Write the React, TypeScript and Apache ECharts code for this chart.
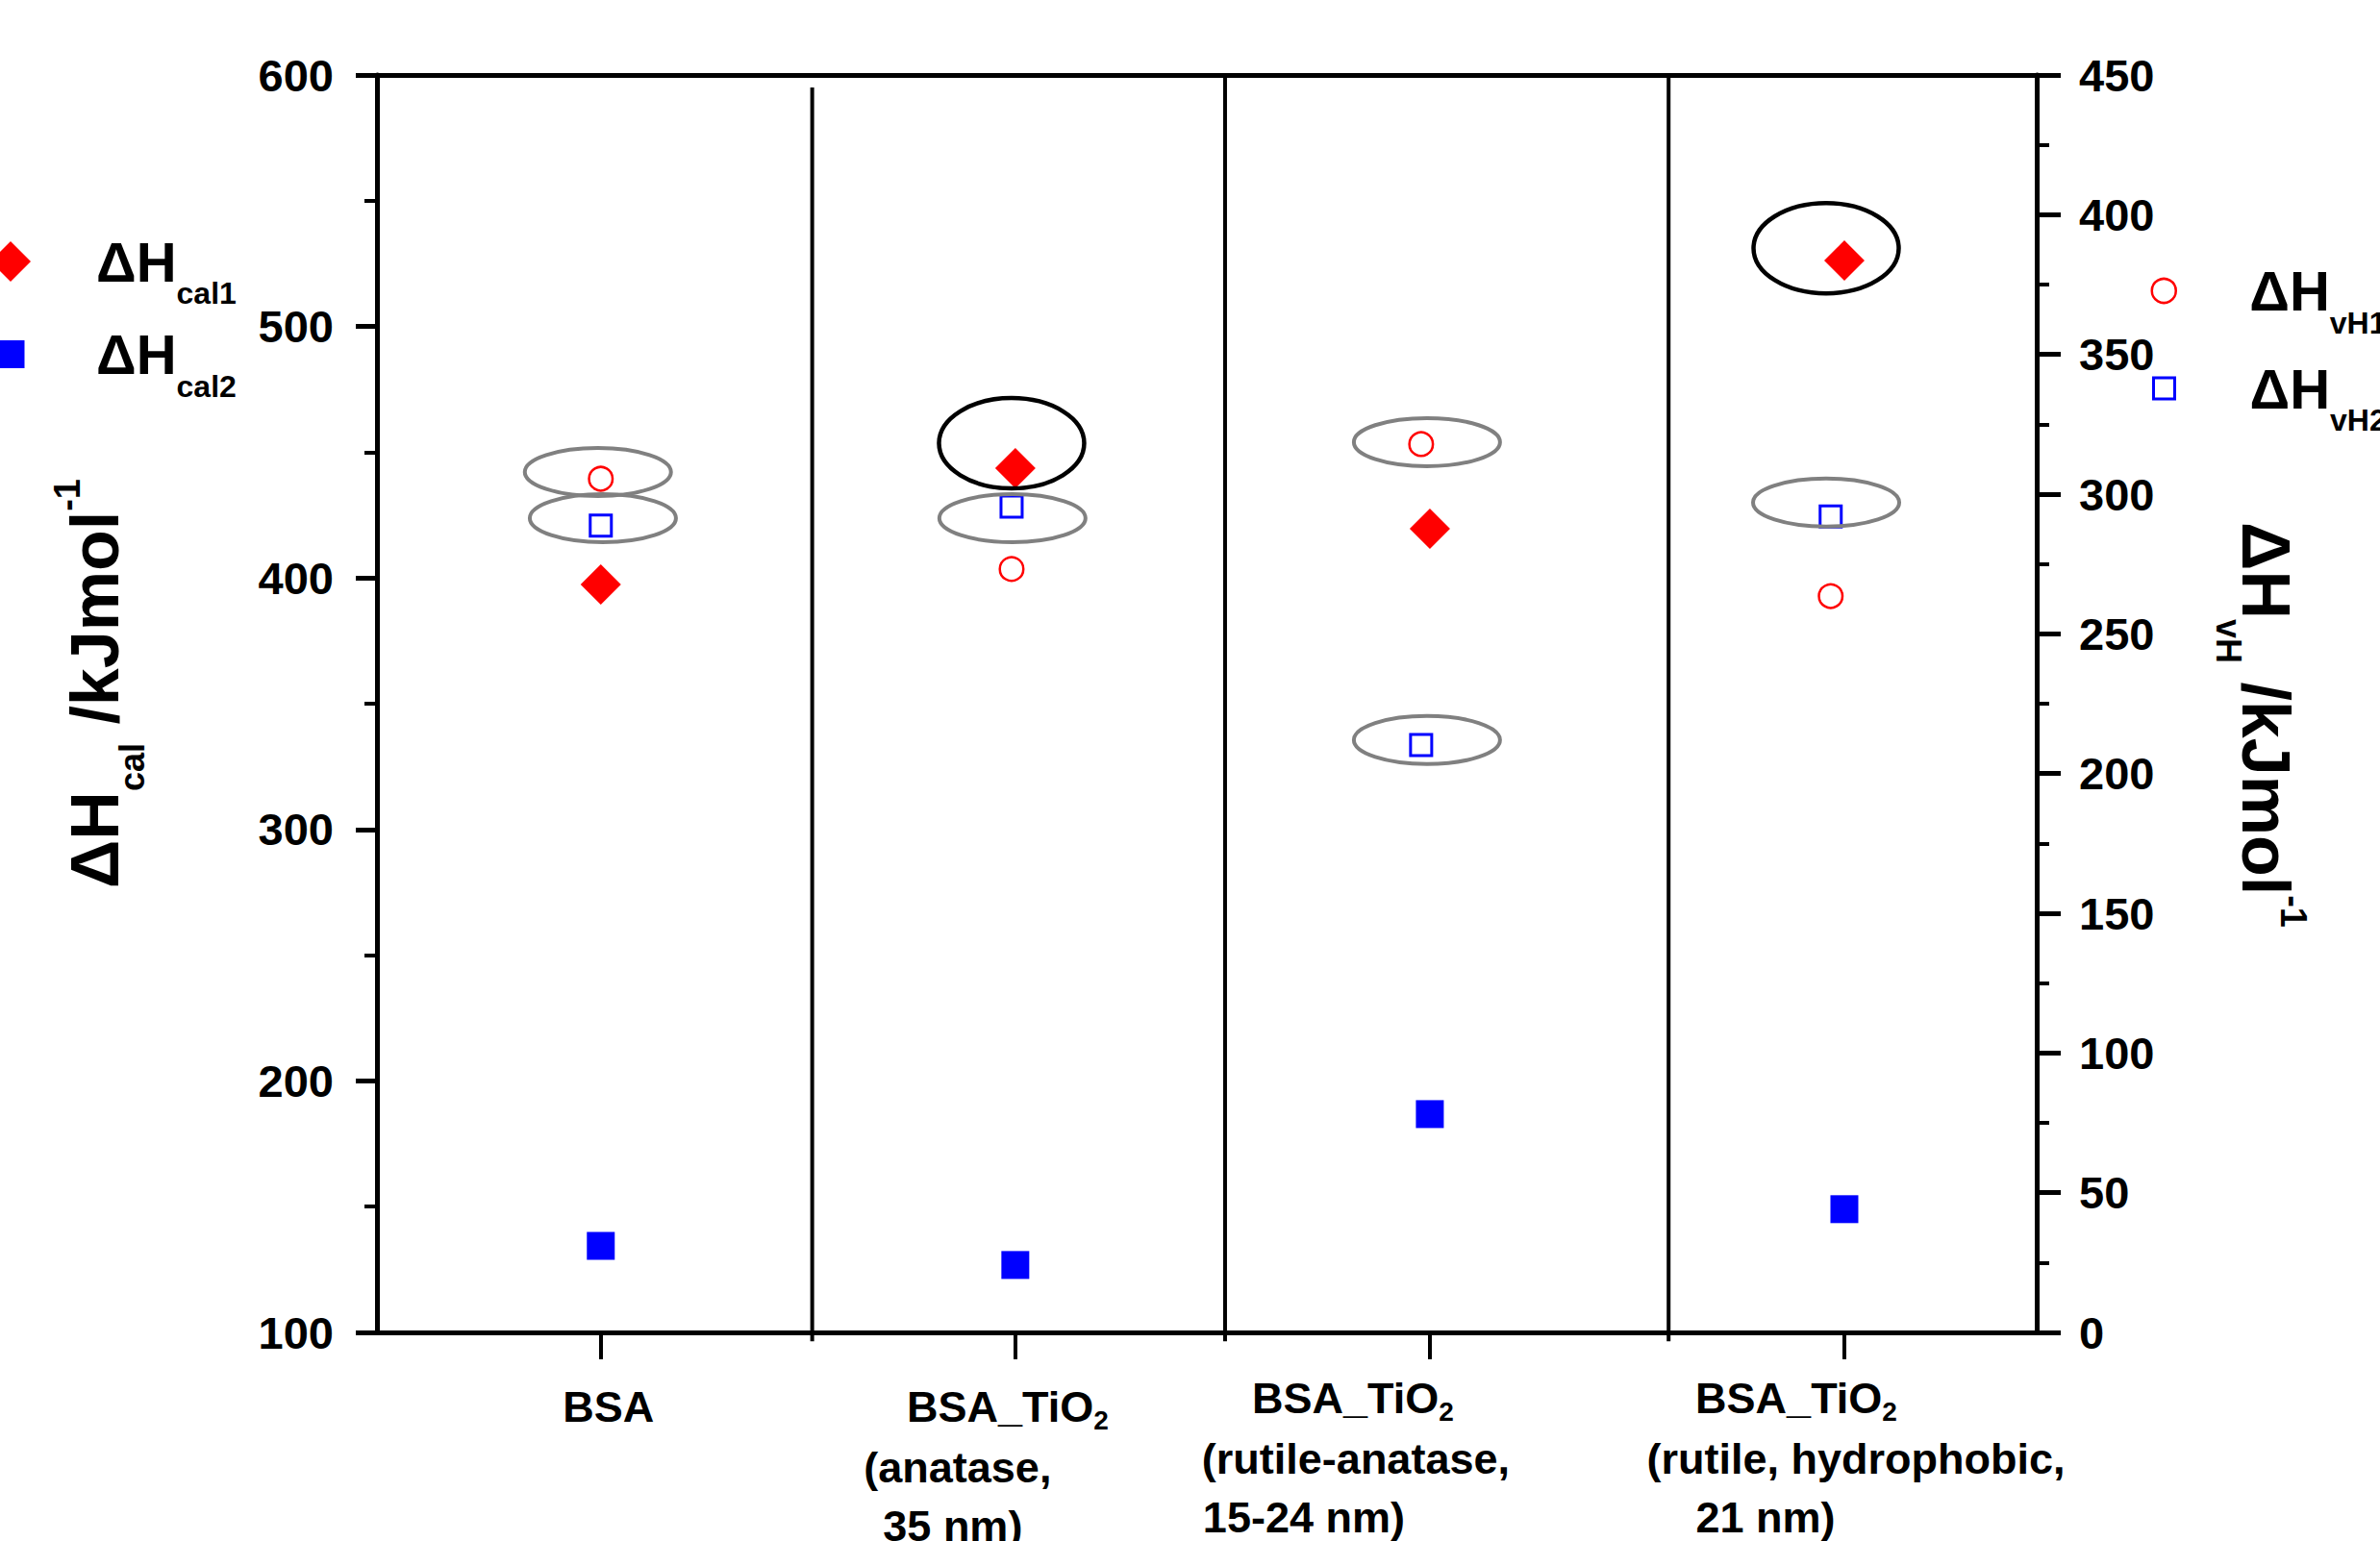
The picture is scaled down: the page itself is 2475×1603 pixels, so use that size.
import React, { useEffect, useRef } from 'react';
import * as echarts from 'echarts';

// ---------- data ----------
const categoryPositions = [1, 2, 3, 4];
const categoryMain = ['BSA', 'BSA_TiO', 'BSA_TiO', 'BSA_TiO'];
const categorySub = ['', '2', '2', '2'];
const categoryLine2 = ['', '(anatase,', '(rutile-anatase,', '(rutile, hydrophobic,'];
const categoryLine3 = ['', '35 nm)', '15-24 nm)', '21 nm)'];

const seriesNames = ['ΔHcal1', 'ΔHcal2', 'ΔHvH1', 'ΔHvH2'];
const cal1 = [[1, 397.4], [2, 443.7], [3, 419.6], [4, 526.2]];
const cal2 = [[1, 134.4], [2, 126.8], [3, 186.8], [4, 149.0]];
const vH1 = [[1, 305.5], [1.991, 273.2], [2.979, 317.9], [3.967, 263.5]];
const vH2 = [[1, 288.7], [1.991, 295.5], [2.979, 210.2], [3.967, 292.0]];

// separators: x, top (left axis), bottom (left axis)
const separators = [[1.51, 595, 96.5], [2.506, 600, 96.5], [3.576, 599, 96.5]];
// highlight ellipses: x, y (right axis), kind (0 gray, 1 black)
const ellipses = [
  [0.993, 307.9, 0], [1.005, 291.4, 0],
  [1.991, 318.2, 1], [1.993, 291.4, 0],
  [2.993, 318.6, 0], [2.993, 212.0, 0],
  [3.956, 388.0, 1], [3.956, 297.0, 0],
];

const leftTicks = { min: 100, max: 600, interval: 100 };
const rightTicks = { min: 0, max: 450, interval: 50 };

// ---------- layout (styles) ----------
const FONT = "'Liberation Sans', Arial, Helvetica, sans-serif";
const X_MIN = 0.46;
const X_MAX = 4.464;
const PX_PER_UNIT = 1726 / (X_MAX - X_MIN);
// horizontal offset (px) of each label block from its tick, and of each line inside the block
const labelAnchorShift = [8, -8, -77, 12];
const lineShifts = [[0, 0, 0], [0, -52, -57], [-3, 0, -54], [-62, 0, -94]];
const labelDrop = [9, 9, 0, 0];
const lowerLinesDrop = 2;
const labelAnchors = categoryPositions.map((p, i) => p + labelAnchorShift[i] / PX_PER_UNIT);

function padH(s: number) {
  return { r: s < 0 ? -2 * s : 0, l: s > 0 ? 2 * s : 0 };
}

function buildXRich() {
  const rich: any = {};
  const base = { fontSize: 45, fontWeight: 'bold', fontFamily: FONT, color: '#000', lineHeight: 61, verticalAlign: 'middle' };
  categoryPositions.forEach((_, i) => {
    const [s1, s2, s3] = lineShifts[i];
    const d = labelDrop[i] * 2;
    const d2 = d + lowerLinesDrop * 2;
    const hasSub = !!categorySub[i];
    const p1 = padH(s1), p2 = padH(s2), p3 = padH(s3);
    rich['m' + i] = { ...base, padding: [d, hasSub ? 0 : p1.r, 0, p1.l] };
    rich['s' + i] = { ...base, fontSize: 28, padding: [28 + d, p1.r, 0, 0] };
    rich['a' + i] = { ...base, padding: [d2, p2.r, 0, p2.l] };
    rich['b' + i] = { ...base, padding: [d2, p3.r, 0, p3.l] };
  });
  return rich;
}

function xFormatter(value: number) {
  let i = -1;
  let best = Infinity;
  labelAnchors.forEach((a, k) => {
    const d = Math.abs(a - value);
    if (d < best) { best = d; i = k; }
  });
  if (i < 0 || best > 0.01) return '';
  let s = `{m${i}|${categoryMain[i]}}` + (categorySub[i] ? `{s${i}|${categorySub[i]}}` : '');
  if (categoryLine2[i]) s += `\n{a${i}|${categoryLine2[i]}}`;
  if (categoryLine3[i]) s += `\n{b${i}|${categoryLine3[i]}}`;
  return s;
}

function legendBlock(name: string, icon: string, itemStyle: any, left: number, top: number, size: number, pad: number) {
  return {
    data: [{ name, icon, itemStyle }],
    left, top, itemWidth: size, itemHeight: size, padding: 0, selectedMode: false,
    formatter: (n: string) => `{m|ΔH}{s|${n.slice(2)}}`,
    textStyle: {
      rich: {
        m: { fontSize: 58, fontWeight: 'bold', fontFamily: FONT, color: '#000', lineHeight: size, verticalAlign: 'middle', padding: [0, 0, 0, pad] },
        s: { fontSize: 32, fontWeight: 'bold', fontFamily: FONT, color: '#000', lineHeight: size, verticalAlign: 'middle', padding: [66, 0, 0, 0] },
      },
    },
  };
}

function titleRich(firstPad: number) {
  const b = { fontWeight: 'bold', fontFamily: FONT, color: '#000', lineHeight: 80, verticalAlign: 'middle' };
  return {
    d: { ...b, fontSize: 70, padding: [0, 0, 0, firstPad] },
    h: { ...b, fontSize: 70 },
    s: { ...b, fontSize: 36, padding: [77, 0, 0, 0] },
    p: { ...b, fontSize: 38, padding: [0, 0, 58, 0] },
  };
}

const axisLine = { show: true, lineStyle: { color: '#000', width: 5 } };
const tickLabel = { fontSize: 47, fontWeight: 'bold', fontFamily: FONT, color: '#000' };

export default function App() {
  const ref = useRef<HTMLDivElement>(null);
  useEffect(() => {
    document.body.style.margin = '0';
    const chart = echarts.init(ref.current!, null, { renderer: 'svg' });
    const option: any = {
      animation: false,
      backgroundColor: '#fff',
      grid: { left: 392, right: 357, top: 78, bottom: 217, containLabel: false, outerBoundsMode: 'none' },
      xAxis: [
        {
          type: 'value', position: 'bottom', min: X_MIN, max: X_MAX,
          axisLine,
          axisTick: { show: true, customValues: categoryPositions, length: 28, lineStyle: { color: '#000', width: 4 } },
          axisLabel: {
            show: true, customValues: labelAnchors, margin: 38, formatter: xFormatter, rich: buildXRich(), color: '#000',
            showMinLabel: true, showMaxLabel: true, hideOverlap: false,
          },
          splitLine: { show: false },
        },
        {
          type: 'value', position: 'top', min: X_MIN, max: X_MAX,
          axisLine, axisTick: { show: false }, axisLabel: { show: false }, splitLine: { show: false },
        },
      ],
      yAxis: [
        {
          type: 'value', position: 'left', ...leftTicks,
          axisLine,
          axisTick: { show: true, length: 22, lineStyle: { color: '#000', width: 5 } },
          minorTick: { show: true, splitNumber: 2, length: 13, lineStyle: { color: '#000', width: 4 } },
          axisLabel: { ...tickLabel, margin: 45 },
          splitLine: { show: false },
          name: '{d|Δ}{h|H}{s|cal}{h| /kJmol}{p|-1}',
          nameLocation: 'middle', nameRotate: 90, nameGap: 253,
          nameTextStyle: { rich: titleRich(42) },
        },
        {
          type: 'value', position: 'right', ...rightTicks,
          axisLine,
          axisTick: { show: true, length: 25, lineStyle: { color: '#000', width: 5 } },
          minorTick: { show: true, splitNumber: 2, length: 13, lineStyle: { color: '#000', width: 4 } },
          axisLabel: { ...tickLabel, margin: 44 },
          splitLine: { show: false },
          name: '{d|Δ}{h|H}{s|vH}{h| /kJmol}{p|-1}',
          nameLocation: 'middle', nameRotate: -90, nameGap: 198,
          nameTextStyle: { rich: titleRich(44) },
        },
      ],
      legend: [
        legendBlock(seriesNames[0], 'diamond', { color: '#ff0000' }, -10, 223, 42, 63),
        legendBlock(seriesNames[1], 'rect', { color: '#0000ff' }, -3.5, 319.5, 29, 69.5),
        legendBlock(seriesNames[2], 'circle', { color: 'rgba(0,0,0,0)', borderColor: '#ff0000', borderWidth: 2.5 }, 2236.5, 253.5, 25, 71.5),
        legendBlock(seriesNames[3], 'rect', { color: 'rgba(0,0,0,0)', borderColor: '#0000ff', borderWidth: 3 }, 2238, 355, 22, 73),
      ],
      series: [
        {
          type: 'custom', name: 'separators', xAxisIndex: 0, yAxisIndex: 0, clip: false, silent: true,
          data: separators,
          renderItem: (_p: any, api: any) => {
            const a = api.coord([api.value(0), api.value(1)]);
            const b = api.coord([api.value(0), api.value(2)]);
            return { type: 'line', shape: { x1: a[0], y1: a[1], x2: b[0], y2: b[1] }, style: { stroke: '#000', lineWidth: 4 } };
          },
        },
        {
          name: seriesNames[0], type: 'scatter', xAxisIndex: 0, yAxisIndex: 0,
          symbol: 'diamond', symbolSize: 42, itemStyle: { color: '#ff0000', opacity: 1 }, data: cal1, z: 3,
        },
        {
          name: seriesNames[1], type: 'scatter', xAxisIndex: 0, yAxisIndex: 0,
          symbol: 'rect', symbolSize: 29, itemStyle: { color: '#0000ff', opacity: 1 }, data: cal2, z: 3,
        },
        {
          name: seriesNames[2], type: 'scatter', xAxisIndex: 0, yAxisIndex: 1,
          symbol: 'circle', symbolSize: 24.5,
          itemStyle: { color: 'rgba(0,0,0,0)', borderColor: '#ff0000', borderWidth: 2.5, opacity: 1 }, data: vH1, z: 3,
        },
        {
          name: seriesNames[3], type: 'scatter', xAxisIndex: 0, yAxisIndex: 1,
          symbol: 'rect', symbolSize: 22,
          itemStyle: { color: 'rgba(0,0,0,0)', borderColor: '#0000ff', borderWidth: 3, opacity: 1 }, data: vH2, z: 3,
        },
        {
          type: 'custom', name: 'ellipses', xAxisIndex: 0, yAxisIndex: 1, clip: false, silent: true,
          data: ellipses, z: 4,
          renderItem: (_p: any, api: any) => {
            const c = api.coord([api.value(0), api.value(1)]);
            const black = api.value(2) === 1;
            return {
              type: 'ellipse',
              shape: { cx: c[0], cy: c[1], rx: black ? 75.5 : 76, ry: black ? 47 : 25 },
              style: { fill: 'none', stroke: black ? '#000' : '#808080', lineWidth: black ? 4.5 : 4 },
            };
          },
        },
      ],
    };
    chart.setOption(option);
    return () => chart.dispose();
  }, []);
  return <div ref={ref} style={{ width: 2475, height: 1603 }} />;
}
